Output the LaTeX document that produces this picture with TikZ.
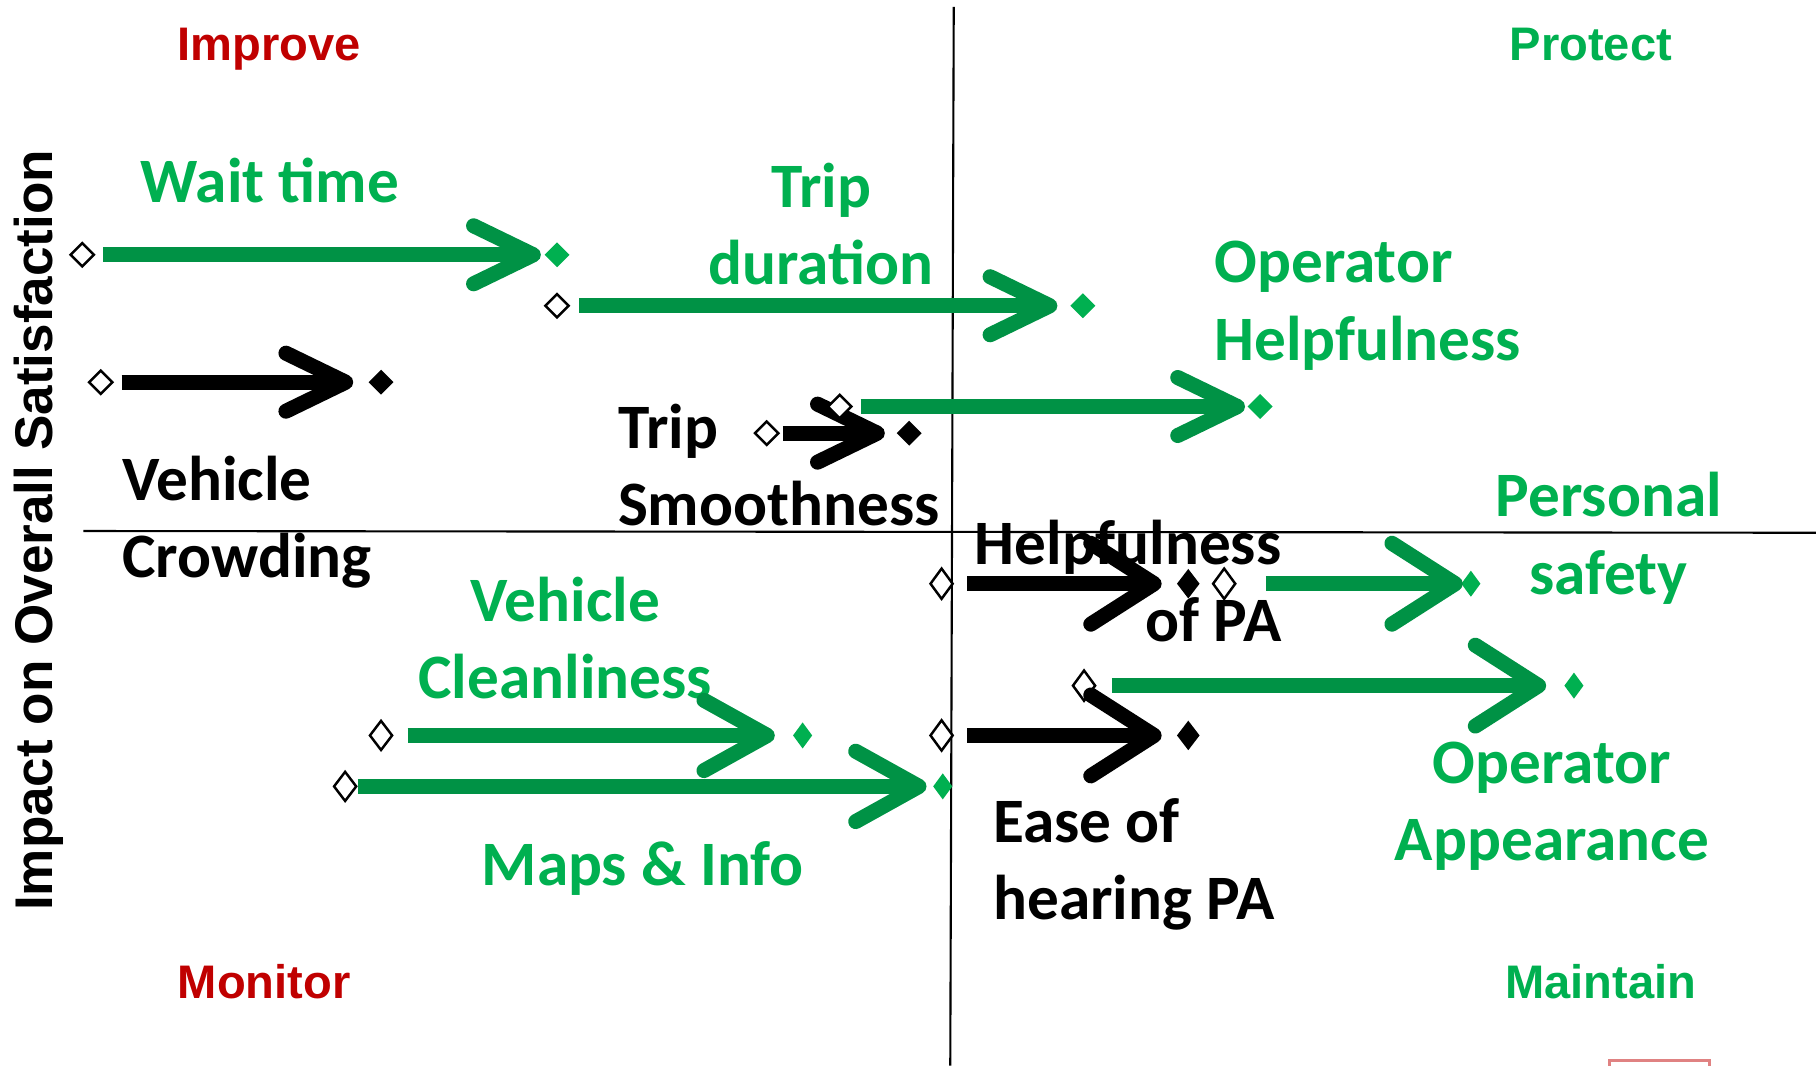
\documentclass[tikz,border=0pt]{standalone}
\usepackage{fontspec}
\setmainfont{Carlito}
\newfontfamily\quadfamily{Liberation Sans}
\usetikzlibrary{arrows.meta,shapes.geometric}

\definecolor{txtgreen}{RGB}{0,176,80}
\definecolor{arrgreen}{RGB}{0,146,69}
\definecolor{quadred}{RGB}{192,0,0}
\definecolor{boxred}{RGB}{224,130,130}

\newdimen\unitpx
\unitpx=0.011582cm

\def \lblfont {\fontsize{18}{22}\selectfont\bfseries}
\def \quadfont {\quadfamily\fontsize{13.4}{16}\selectfont\bfseries}

\tikzset{
  lbl/.style={font=\lblfont, inner sep=0pt},
  glbl/.style={lbl, text=txtgreen},
  quadlbl/.style={font=\quadfont, inner sep=0pt, anchor=base west},
  startdiam/.style={diamond, draw=black, fill=white, line width=0.7pt, inner sep=0pt,
    minimum width=21\unitpx, minimum height=21\unitpx},
  enddiam/.style={diamond, inner sep=0pt, minimum width=22\unitpx, minimum height=22\unitpx},
  smalldiam/.style={diamond, inner sep=0pt, fill=txtgreen, minimum width=17\unitpx, minimum height=23\unitpx},
  arr/.style={line width=13\unitpx, -{Straight Barb[length=17pt, width=16.5pt, round]}},
  midarr/.style={-{Straight Barb[length=18pt, width=20pt, round]}},
  steeparr/.style={-{Straight Barb[length=18pt, width=23pt, round]}},
}

\begin{document}
\begin{tikzpicture}[x=0.011582cm, y=-0.011582cm]
\useasboundingbox (0,0) rectangle (1568,920);

% quadrant lines
\coordinate (vtop) at (823.5,6);
\coordinate (vbot) at (820.5,920);
\coordinate (hleft) at (72,458.5);
\coordinate (hright) at (1568,460);
\draw[line width=0.6pt] (vtop) -- (vbot);
\draw[line width=0.6pt] (hleft) -- (hright);

% quadrant names
\node[quadlbl, text=quadred] (improve) at (153,52) {Improve};
\node[quadlbl, text=txtgreen] (protect) at (1303,52) {Protect};
\node[quadlbl, text=quadred] (monitor) at (153,862) {Monitor};
\node[quadlbl, text=txtgreen] (maintain) at (1299,862) {Maintain};

\node[font=\quadfamily\fontsize{15.1}{18}\selectfont\bfseries, inner sep=0pt, rotate=90, anchor=base] (yaxis) at (45,458) {Impact on Overall Satisfaction};

% labels (base = last line)
\node[glbl, anchor=base west] (waitlbl) at (121,175) {Wait time};
\node[glbl, anchor=base, align=center] (durlbl) at (709,246) {Trip\\duration};
\node[glbl, anchor=base west, align=left] (ophelplbl) at (1048,311) {Operator\\Helpfulness};
\node[lbl, anchor=base west, align=left] (crowdlbl) at (105,499) {Vehicle\\Crowding};
\node[lbl, anchor=base west, align=left] (smoothlbl) at (533,454) {Trip\\Smoothness};
\node[glbl, anchor=base, align=center] (safelbl) at (1389,513) {Personal\\safety};
\node[lbl, anchor=base east, align=right] (helppalbl) at (1107,554) {Helpfulness\\of PA};
\node[glbl, anchor=base, align=center] (cleanlbl) at (488,603) {Vehicle\\Cleanliness};
\node[glbl, anchor=base] (mapslbl) at (555,765) {Maps \& Info};
\node[lbl, anchor=base west, align=left] (easelbl) at (857,794) {Ease of\\hearing PA};
\node[glbl, anchor=base, align=center] (opapplbl) at (1340,743) {Operator\\Appearance};

% Wait time
\node[startdiam] (wait0) at (71,220) {};
\node[enddiam, fill=txtgreen] (wait1) at (481,220) {};
\draw[arr, arrgreen, shorten <=18\unitpx, shorten >=14\unitpx] (wait0.center) -- (wait1.center);

% Trip duration
\node[startdiam] (dur0) at (481,264) {};
\node[enddiam, fill=txtgreen] (dur1) at (935,264) {};
\draw[arr, arrgreen, shorten <=19\unitpx, shorten >=22\unitpx] (dur0.center) -- (dur1.center);

% Vehicle crowding
\node[startdiam] (crowd0) at (87,330) {};
\node[enddiam, fill=black] (crowd1) at (329,330) {};
\draw[arr, shorten <=18\unitpx, shorten >=24\unitpx] (crowd0.center) -- (crowd1.center);

% Trip smoothness
\node[startdiam] (smooth0) at (662,374) {};
\node[enddiam, fill=black] (smooth1) at (785,374) {};
\draw[arr, shorten <=14\unitpx, shorten >=21\unitpx] (smooth0.center) -- (smooth1.center);

% Operator helpfulness
\node[startdiam] (ophelp0) at (725,351) {};
\node[enddiam, fill=txtgreen] (ophelp1) at (1088,351) {};
\draw[arr, arrgreen, shorten <=18\unitpx, shorten >=13\unitpx] (ophelp0.center) -- (ophelp1.center);

% Helpfulness of PA
\node[startdiam, minimum width=20\unitpx, minimum height=27\unitpx] (helppa0) at (813,504) {};
\node[enddiam, fill=black, minimum width=20\unitpx, minimum height=26\unitpx] (helppa1) at (1026,504) {};
\draw[arr, steeparr, shorten <=22\unitpx, shorten >=23\unitpx] (helppa0.center) -- (helppa1.center);

% Personal safety
\node[startdiam, minimum width=20\unitpx, minimum height=27\unitpx] (safe0) at (1057,504) {};
\node[smalldiam] (safe1) at (1270,504) {};
\draw[arr, steeparr, arrgreen, shorten <=36\unitpx, shorten >=7\unitpx] (safe0.center) -- (safe1.center);

% Operator appearance
\node[startdiam, minimum width=20\unitpx, minimum height=27\unitpx] (opapp0) at (936,592) {};
\node[smalldiam] (opapp1) at (1359,592) {};
\draw[arr, steeparr, arrgreen, shorten <=24\unitpx, shorten >=24\unitpx] (opapp0.center) -- (opapp1.center);

% Ease of hearing PA
\node[startdiam, minimum width=20\unitpx, minimum height=27\unitpx] (ease0) at (813,635) {};
\node[enddiam, fill=black, minimum width=20\unitpx, minimum height=26\unitpx] (ease1) at (1026,635) {};
\draw[arr, steeparr, shorten <=22\unitpx, shorten >=23\unitpx] (ease0.center) -- (ease1.center);

% Vehicle cleanliness
\node[startdiam, minimum width=20\unitpx, minimum height=26\unitpx] (clean0) at (329,635) {};
\node[smalldiam] (clean1) at (693,635) {};
\draw[arr, midarr, arrgreen, shorten <=23\unitpx, shorten >=24\unitpx] (clean0.center) -- (clean1.center);

% Maps & info
\node[startdiam, minimum width=20\unitpx, minimum height=26\unitpx] (maps0) at (298,679) {};
\node[smalldiam] (maps1) at (814,679) {};
\draw[arr, midarr, arrgreen, shorten <=11\unitpx, shorten >=14\unitpx] (maps0.center) -- (maps1.center);

% cut-off box
\coordinate (boxa) at (1390,916);
\coordinate (boxb) at (1476,940);
\draw[boxred, line width=0.8pt] (boxa) rectangle (boxb);
\end{tikzpicture}
\end{document}
